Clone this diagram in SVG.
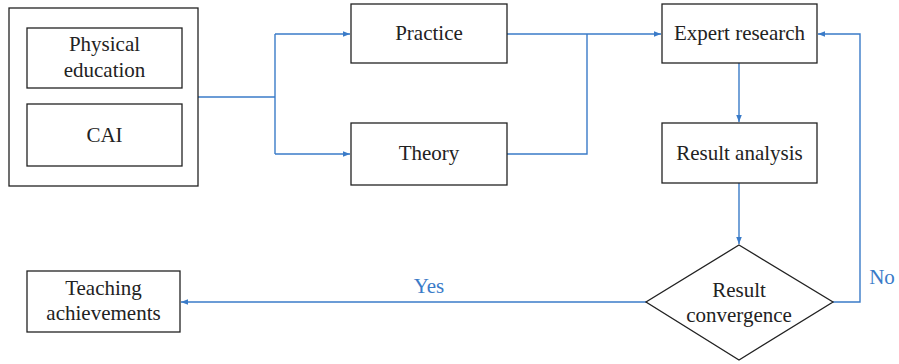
<svg xmlns="http://www.w3.org/2000/svg" width="899" height="364" viewBox="0 0 899 364">
  <style>
    .box { fill: #fff; stroke: #222; stroke-width: 1.3; }
    .lbl { font-family: "Liberation Serif", "DejaVu Serif", serif; font-size: 21px; fill: #222; text-anchor: middle; }
    .edge { fill: none; stroke: #3a7bc8; stroke-width: 1.4; }
    .elbl { font-family: "Liberation Serif", "DejaVu Serif", serif; font-size: 21px; fill: #3a7bc8; text-anchor: middle; }
  </style>
  <defs>
    <marker id="arr" viewBox="0 0 10 10" refX="10" refY="5" markerWidth="7" markerHeight="7" orient="auto" markerUnits="userSpaceOnUse">
      <path d="M0,1 L10,5 L0,9 Z" fill="#3a7bc8"/>
    </marker>
  </defs>
  <rect width="899" height="364" fill="#fff"/>

  <g id="edges">
    <path class="edge" d="M198,97 H275"/>
    <path class="edge" d="M275,34 V154"/>
    <path class="edge" d="M275,34 H350" marker-end="url(#arr)"/>
    <path class="edge" d="M275,154 H350" marker-end="url(#arr)"/>
    <path class="edge" d="M507,34 H661" marker-end="url(#arr)"/>
    <path class="edge" d="M507,154 H587 V34"/>
    <path class="edge" d="M739,63 V122" marker-end="url(#arr)"/>
    <path class="edge" d="M739,183 V244" marker-end="url(#arr)"/>
    <path class="edge" d="M833,302 H860 V34 H818" marker-end="url(#arr)"/>
    <path class="edge" d="M646,302 H181" marker-end="url(#arr)"/>
    <text class="elbl" x="429" y="293">Yes</text>
    <text class="elbl" x="882" y="284">No</text>
  </g>

  <g id="inputs">
    <rect class="box" x="9" y="8" width="189" height="178"/>
    <g id="physical-education">
      <rect class="box" x="27" y="28" width="155" height="60"/>
      <text class="lbl" x="104.5" y="51">Physical</text>
      <text class="lbl" x="104.5" y="77">education</text>
    </g>
    <g id="cai">
      <rect class="box" x="27" y="104" width="155" height="62"/>
      <text class="lbl" x="104.5" y="142">CAI</text>
    </g>
  </g>

  <g id="practice">
    <rect class="box" x="351" y="4" width="156" height="59"/>
    <text class="lbl" x="429" y="40">Practice</text>
  </g>
  <g id="theory">
    <rect class="box" x="351" y="123" width="156" height="62"/>
    <text class="lbl" x="429" y="160">Theory</text>
  </g>
  <g id="expert-research">
    <rect class="box" x="662" y="4" width="155" height="59"/>
    <text class="lbl" x="739.5" y="40">Expert research</text>
  </g>
  <g id="result-analysis">
    <rect class="box" x="662" y="123" width="155" height="60"/>
    <text class="lbl" x="739.5" y="160">Result analysis</text>
  </g>
  <g id="result-convergence">
    <polygon class="box" points="739,245 833,302 739,360 646,302"/>
    <text class="lbl" x="739" y="297">Result</text>
    <text class="lbl" x="739" y="322">convergence</text>
  </g>
  <g id="teaching-achievements">
    <rect class="box" x="27" y="271" width="153" height="61"/>
    <text class="lbl" x="103.5" y="295">Teaching</text>
    <text class="lbl" x="103.5" y="320">achievements</text>
  </g>
</svg>
